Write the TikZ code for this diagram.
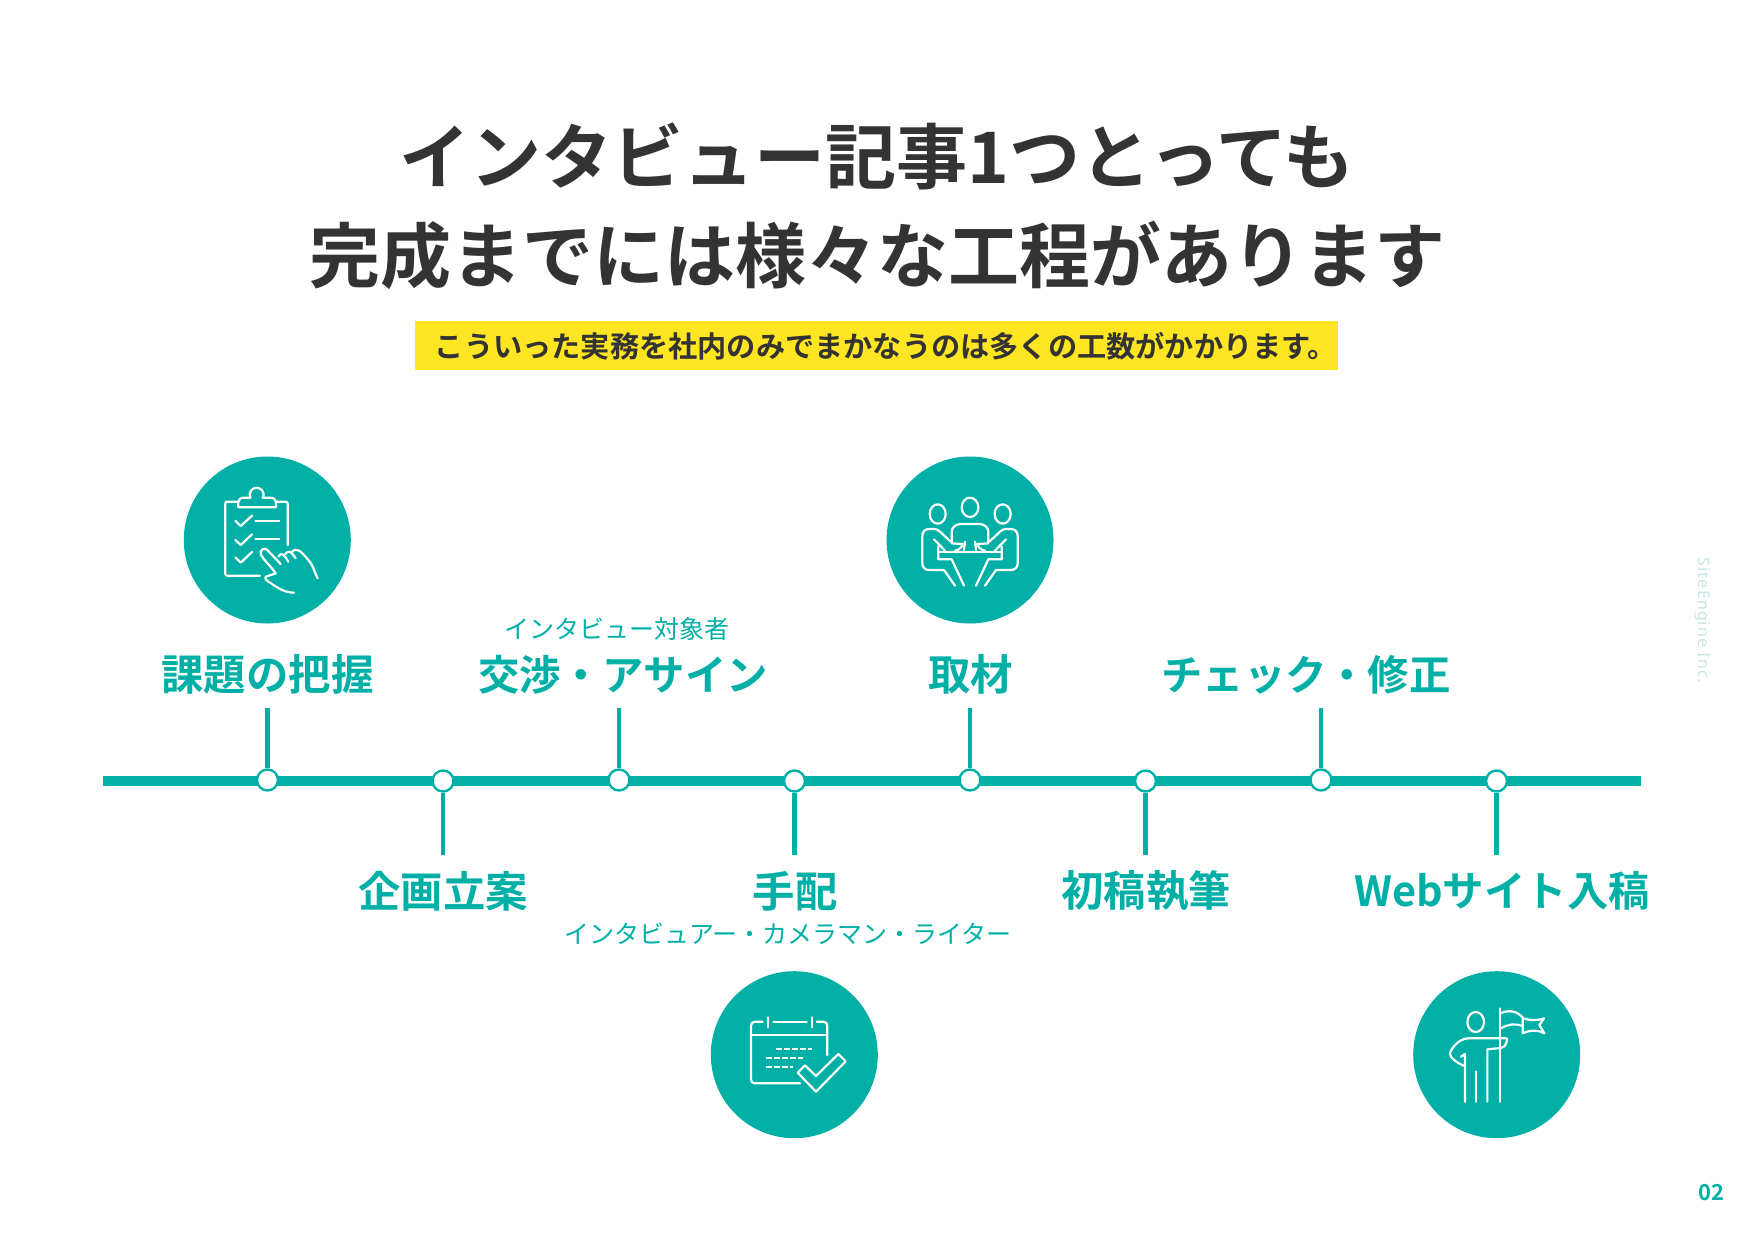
\documentclass[tikz,border=0pt]{standalone}
\usepackage{fontspec}
\setmainfont{Noto Sans CJK JP}[BoldFont={Noto Sans CJK JP Bold}]
\newfontfamily\latinfont{Noto Sans}[LetterSpace=7]
\usepackage{tikz}
\definecolor{teal1}{HTML}{00B0A6}
\definecolor{ink1}{HTML}{333333}
\definecolor{yellow1}{HTML}{FFE522}
\definecolor{pale1}{HTML}{C5E5E4}
\begin{document}
\begin{tikzpicture}[x=0.5pt,y=-0.5pt,
  dot/.style={circle,draw=teal1,fill=white,line width=1.2pt,minimum size=10.5pt,inner sep=0pt},
  tick/.style={draw=teal1,line width=2.1pt},
  disc/.style={circle,fill=teal1,minimum size=83.5pt,inner sep=0pt},
  stage/.style={text=teal1,font=\fontsize{21.2}{26}\selectfont\bfseries,inner sep=0pt},
  stagekana/.style={text=teal1,font=\fontsize{20.7}{26}\selectfont\bfseries,inner sep=0pt},
  note/.style={text=teal1,font=\fontsize{12.5}{16}\selectfont,inner sep=0pt},
  title/.style={text=ink1,font=\fontsize{35.5}{44}\selectfont\bfseries,inner sep=0pt},
  icon/.style={draw=white,line width=1.1pt,line cap=round,line join=round}]
\useasboundingbox (0,0) rectangle (1754,1241);
\node [title] (t1) at (877,156.5) {インタビュー記事1つとっても};
\node [title] (t2) at (877,255) {完成までには様々な工程があります};
\node [fill=yellow1,minimum width=461.5pt,minimum height=24.5pt,inner sep=0pt] (band) at (876,345.5) {};
\node [text=ink1,font=\fontsize{14.6}{18}\selectfont\bfseries,inner sep=0pt] (sub) at (886,346) {こういった実務を社内のみでまかなうのは多くの工数がかかります。};

\coordinate (lineL) at (103,781);
\coordinate (lineR) at (1641,781);
\draw [teal1,line width=5.4pt] (lineL) -- (lineR);

\coordinate (e1) at (267.5,708);
\coordinate (e2) at (443,855);
\coordinate (e3) at (619,708);
\coordinate (e4) at (794.5,855);
\coordinate (e5) at (970,708);
\coordinate (e6) at (1145.5,855);
\coordinate (e7) at (1321,708);
\coordinate (e8) at (1496.5,855);
\node [dot] (p1) at (267.5,780) {};
\node [dot] (p2) at (443,781) {};
\node [dot] (p3) at (619,780) {};
\node [dot] (p4) at (794.5,781) {};
\node [dot] (p5) at (970,780) {};
\node [dot] (p6) at (1145.5,781) {};
\node [dot] (p7) at (1321,780) {};
\node [dot] (p8) at (1496.5,781) {};
\draw [tick] (p1) -- (e1);
\draw [tick] (p2) -- (e2);
\draw [tick] (p3) -- (e3);
\draw [tick] (p4) -- (e4);
\draw [tick] (p5) -- (e5);
\draw [tick] (p6) -- (e6);
\draw [tick] (p7) -- (e7);
\draw [tick] (p8) -- (e8);

\node [stage] (s1) at (267.5,675) {課題の把握};
\node [stage] (s2) at (443,891) {企画立案};
\node [stagekana] (s3) at (623,675) {交渉・アサイン};
\node [stage] (s4) at (795,891) {手配};
\node [stage] (s5) at (970.5,674.5) {取材};
\node [stage] (s6) at (1146,891) {初稿執筆};
\node [stagekana] (s7) at (1306,675) {チェック・修正};
\node [stagekana] (s8) at (1502,891) {Webサイト入稿};
\node [note] (n3) at (617,629) {インタビュー対象者};
\node [note] (n4) at (788,934) {インタビュアー・カメラマン・ライター};

\node [disc] (c1) at (267.3,540) {};
\node [disc] (c5) at (970,540) {};
\node [disc] (c4) at (794.3,1054.7) {};
\node [disc] (c8) at (1496.7,1054.7) {};

\begin{scope}[shift={(150,430)},scale=1/3]
  \draw [icon] (330,437) -- (232,437) .. controls (228,437) and (226,435) .. (226,431) -- (226,221) .. controls (226,217) and (228,215) .. (232,215) -- (265,215);
  \draw [icon] (378,215) -- (407,215) .. controls (411,215) and (413,217) .. (413,221) -- (413,345);
  \draw [icon] (265,232) -- (265,216) .. controls (265,208) and (272,203) .. (282,203) -- (302,203) .. controls (292,185) and (310,173) .. (320,173) .. controls (330,173) and (348,185) .. (338,203) -- (360,203) .. controls (370,203) and (378,208) .. (378,216) -- (378,232) -- cycle;
  \draw [icon] (256,272) -- (272,288) -- (306,257);
  \draw [icon] (256,330) -- (272,345) -- (306,313);
  \draw [icon] (256,382) -- (272,398) -- (306,366);
  \draw [icon] (316,272) -- (388,272);
  \draw [icon] (316,328) -- (388,328);
  \draw [icon] (377,430) .. controls (360,405) and (345,395) .. (333,375) .. controls (326,360) and (345,350) .. (352,360) -- (392,402);
  \draw [icon] (385,380) .. controls (392,368) and (400,368) .. (415,395);
  \draw [icon] (405,373) .. controls (415,360) and (422,362) .. (437,385);
  \draw [icon] (425,366) .. controls (440,352) and (450,360) .. (475,390) .. controls (490,405) and (490,420) .. (503,445);
  \draw [icon] (377,430) -- (348,440) .. controls (342,445) and (350,452) .. (360,458) .. controls (385,475) and (405,488) .. (432,488);
\end{scope}

\begin{scope}[shift={(860,430)},scale=1/3]
  \draw [icon] (233,252) ellipse (24 and 29);
  \draw [icon] (330,232) ellipse (25 and 29);
  \draw [icon] (428,252) ellipse (24 and 29);
  \draw [icon] (275,338) -- (275,305) .. controls (275,292) and (288,282) .. (302,282) -- (358,282) .. controls (372,282) and (385,292) .. (385,305) -- (385,338);
  \draw [icon] (235,365) -- (425,365);
  \draw [icon] (312,360) .. controls (315,350) and (315,345) .. (315,335);
  \draw [icon] (348,360) .. controls (345,350) and (345,345) .. (345,335);
  \draw [icon] (275,340) -- (308,342) .. controls (305,352) and (298,360) .. (285,362);
  \draw [icon] (385,340) -- (352,342) .. controls (355,352) and (362,360) .. (375,362);
  \draw [icon] (272,335) -- (240,305) .. controls (234,299) and (228,297) .. (222,297) -- (208,297) .. controls (195,297) and (187,305) .. (187,318) -- (187,400) .. controls (187,412) and (195,420) .. (208,420) -- (252,420) -- (285,467);
  \draw [icon] (388,335) -- (420,305) .. controls (426,299) and (432,297) .. (438,297) -- (452,297) .. controls (465,297) and (473,305) .. (473,318) -- (473,400) .. controls (473,412) and (465,420) .. (452,420) -- (408,420) -- (375,467);
  \draw [icon] (222,328) -- (255,362);
  \draw [icon] (438,328) -- (405,362);
  \draw [icon] (235,350) -- (235,388) -- (275,388) -- (312,467);
  \draw [icon] (425,350) -- (425,388) -- (385,388) -- (348,467);
\end{scope}

\begin{scope}[shift={(690,950)},scale=1/3]
  \draw [icon] (330,400) -- (195,400) .. controls (187,400) and (183,396) .. (183,388) -- (183,228) .. controls (183,220) and (187,215) .. (195,215) -- (218,215);
  \draw [icon] (250,215) -- (350,215);
  \draw [icon] (380,215) -- (400,215) .. controls (408,215) and (412,220) .. (412,228) -- (412,315);
  \draw [icon] (234,202) -- (234,232);
  \draw [icon] (365,202) -- (365,232);
  \draw [icon] (183,254) -- (412,254);
  \draw [icon,line cap=butt,dash pattern=on 3pt off 1pt] (258,297) -- (365,297);
  \draw [icon,line cap=butt,dash pattern=on 3pt off 1pt] (228,323) -- (338,323);
  \draw [icon,line cap=butt,dash pattern=on 3pt off 1pt] (228,351) -- (310,351);
  \draw [icon] (323,368) -- (345,346) -- (378,378) -- (445,312) -- (467,334) -- (378,425) -- cycle;
\end{scope}

\begin{scope}[shift={(1400,950)},scale=1/3]
  \draw [icon] (227,216) ellipse (25 and 30);
  \draw [icon] (300,175) -- (300,455);
  \draw [icon] (300,190) .. controls (325,180) and (350,180) .. (370,205) .. controls (390,212) and (410,212) .. (432,205) -- (418,225) -- (433,250) .. controls (410,238) and (390,240) .. (368,250) -- (368,205);
  \draw [icon] (303,235) .. controls (325,222) and (345,220) .. (368,228);
  \draw [icon] (195,455) -- (195,312) -- (183,320);
  \draw [icon] (190,347) .. controls (175,340) and (150,325) .. (150,312) .. controls (150,300) and (175,265) .. (205,265) -- (318,265) .. controls (322,265) and (322,268) .. (320,275) .. controls (316,288) and (312,292) .. (300,294) -- (262,298) -- (262,455);
  \draw [icon] (228,364) -- (228,455);
\end{scope}

\node [rotate=-90,text=pale1,font=\latinfont\fontsize{8}{10}\selectfont,inner sep=0pt] (brand) at (1702,620.5) {SiteEngine Inc.};
\node [text=teal1,font=\fontsize{11}{13}\selectfont\bfseries,inner sep=0pt] (page) at (1711,1193) {02};
\end{tikzpicture}
\end{document}
